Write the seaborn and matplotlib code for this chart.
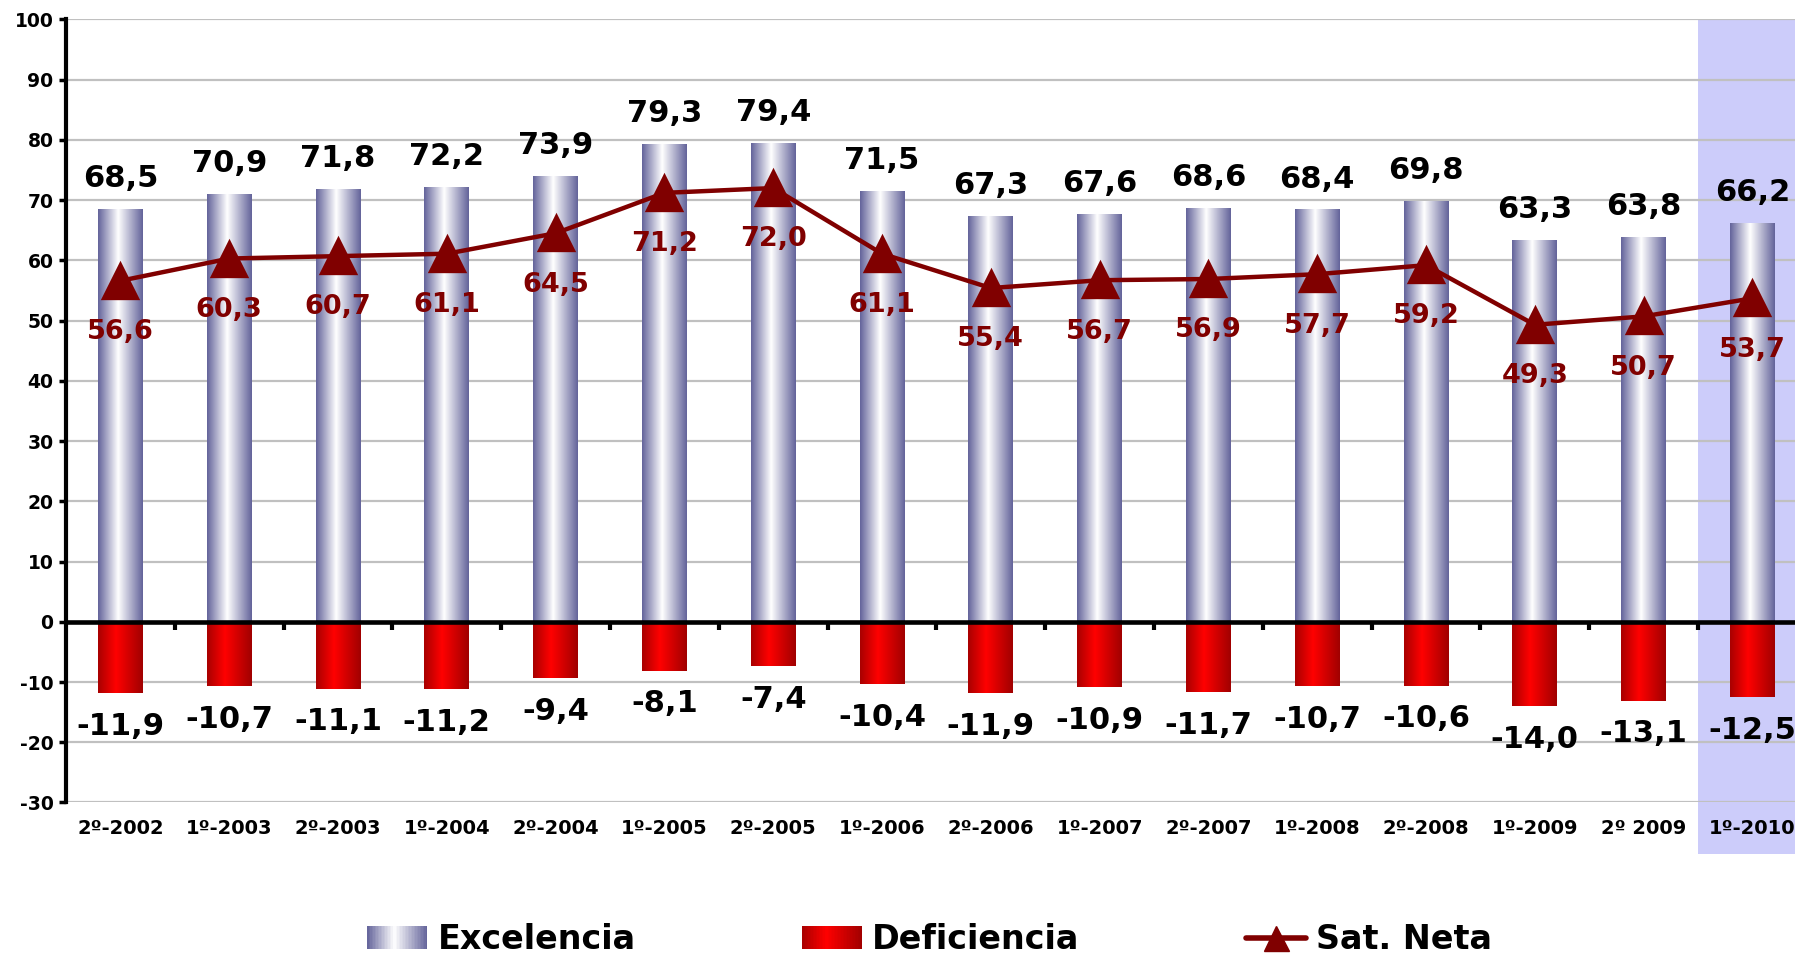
import numpy as np
import matplotlib
matplotlib.use('Agg')
import matplotlib.pyplot as plt
import matplotlib.transforms as mtransforms
from matplotlib.patches import Rectangle, Patch
from matplotlib.lines import Line2D
from matplotlib.colors import LinearSegmentedColormap
from matplotlib.legend_handler import HandlerBase
import seaborn as sns

# data
periods = ['2º-2002', '1º-2003', '2º-2003', '1º-2004', '2º-2004', '1º-2005', '2º-2005',
           '1º-2006', '2º-2006', '1º-2007', '2º-2007', '1º-2008', '2º-2008', '1º-2009',
           '2º 2009', '1º-2010']
excelencia = [68.5, 70.9, 71.8, 72.2, 73.9, 79.3, 79.4, 71.5, 67.3, 67.6, 68.6, 68.4, 69.8, 63.3, 63.8, 66.2]
deficiencia = [-11.9, -10.7, -11.1, -11.2, -9.4, -8.1, -7.4, -10.4, -11.9, -10.9, -11.7, -10.7, -10.6, -14.0, -13.1, -12.5]
sat_neta = [56.6, 60.3, 60.7, 61.1, 64.5, 71.2, 72.0, 61.1, 55.4, 56.7, 56.9, 57.7, 59.2, 49.3, 50.7, 53.7]
y_ticks = list(range(-30, 101, 10))
highlight_from = 14.5  # last period is shaded

NETA = '#800000'
exc_cmap = LinearSegmentedColormap.from_list('exc', [(0, '#63639a'), (0.45, '#ffffff'), (1, '#63639a')])
def_cmap = LinearSegmentedColormap.from_list('def', [(0, '#a80000'), (0.4, '#ff0000'), (1, '#a00000')])


def fmt(v):
    return f"{v:.1f}".replace('.', ',')


class GradientHandler(HandlerBase):
    def __init__(self, cmap):
        super().__init__()
        self.cmap = cmap

    def create_artists(self, legend, orig_handle, xdescent, ydescent, width, height, fontsize, trans):
        n = 40
        out = []
        for i in range(n):
            out.append(Rectangle((-xdescent + i * width / n, -ydescent), width / n * 1.05, height,
                                 facecolor=self.cmap((i + 0.5) / n), edgecolor='none', transform=trans))
        return out


sns.set_style('white')
plt.rcParams['font.family'] = ['DejaVu Sans']
plt.rcParams['font.weight'] = 'bold'
plt.rcParams['text.color'] = 'black'
plt.rcParams['xtick.color'] = 'black'
plt.rcParams['ytick.color'] = 'black'
plt.rcParams['axes.labelcolor'] = 'black'

fig = plt.figure(figsize=(17.95, 9.55), dpi=100)
ax = fig.add_axes([66 / 1795, 0.1597, 16 * 108.8 / 1795, 0.82])

# shaded last period, spills under the tick labels
rect = Rectangle((highlight_from, -0.0658), 2, 1.0658, facecolor='#ccccfa', edgecolor='none',
                 transform=mtransforms.blended_transform_factory(ax.transData, ax.transAxes),
                 clip_on=False, zorder=0)
ax.add_patch(rect)

n0 = len(ax.patches)
sns.barplot(x=periods, y=excelencia, width=0.41, ax=ax)
n1 = len(ax.patches)
sns.barplot(x=periods, y=deficiencia, width=0.41, ax=ax)
n2 = len(ax.patches)

grad = np.linspace(0, 1, 256)[np.newaxis, :]
for idx in range(n0, n2):
    p = ax.patches[idx]
    cmap = exc_cmap if idx < n1 else def_cmap
    x0, w = p.get_x(), p.get_width()
    y0, h = p.get_y(), p.get_height()
    ax.imshow(grad, cmap=cmap, extent=[x0, x0 + w, min(y0, y0 + h), max(y0, y0 + h)],
              aspect='auto', zorder=2, interpolation='bilinear')
    p.set_facecolor('none')
    p.set_edgecolor('none')

sns.pointplot(x=periods, y=sat_neta, color=NETA, markers='^', markersize=25, linewidth=3.2,
              errorbar=None, ax=ax)
for ln in ax.lines:
    ln.set_zorder(4)

for i, v in enumerate(excelencia):
    ax.annotate(fmt(v), (i, v), xytext=(0, 16), textcoords='offset points', ha='center',
                va='baseline', fontsize=22, fontweight='bold', color='black', zorder=5)
for i, v in enumerate(deficiencia):
    ax.annotate(fmt(v), (i, v), xytext=(0, -30), textcoords='offset points', ha='center',
                va='baseline', fontsize=22, fontweight='bold', color='black', zorder=5)
for i, v in enumerate(sat_neta):
    ax.annotate(fmt(v), (i, v), xytext=(0, -42), textcoords='offset points', ha='center',
                va='baseline', fontsize=19.5, fontweight='bold', color=NETA, zorder=5)

ax.set_xlim(-0.5, 15.5)
ax.set_ylim(-30, 100)
ax.set_yticks(y_ticks)
ax.set_yticklabels([str(t) for t in y_ticks])
ax.set_xticks(range(len(periods)))
ax.set_xticklabels(periods)
ax.set_xticks(np.arange(0.5, len(periods) - 1, 1), minor=True)
ax.set(xlabel='', ylabel='')

ax.set_axisbelow(True)
ax.yaxis.grid(True, color='#c0c0c0', linewidth=1.6)
ax.xaxis.grid(False)

for s in ['top', 'right']:
    ax.spines[s].set_visible(False)
ax.spines['left'].set_linewidth(3)
ax.spines['left'].set_color('black')
ax.spines['bottom'].set_position(('data', 0))
ax.spines['bottom'].set_linewidth(3.3)
ax.spines['bottom'].set_color('black')
ax.spines['bottom'].set_zorder(3)

ax.tick_params(axis='y', left=True, length=5, width=2.5, pad=4, colors='black', labelsize=13.5)
ax.tick_params(axis='x', which='major', bottom=True, length=0, pad=142, colors='black', labelsize=14)
ax.tick_params(axis='x', which='minor', bottom=True, length=6, width=3, direction='out', color='black')
for lab in ax.get_xticklabels() + ax.get_yticklabels():
    lab.set_fontweight('bold')

handles = [Patch(label='Excelencia'), Patch(label='Deficiencia'),
           Line2D([], [], color=NETA, marker='^', markersize=18, linewidth=4, label='Sat. Neta')]
leg = fig.legend(handles=handles, labels=['Excelencia', 'Deficiencia', 'Sat. Neta'],
                 handler_map={handles[0]: GradientHandler(exc_cmap), handles[1]: GradientHandler(def_cmap)},
                 loc='center', bbox_to_anchor=(0.518, 0.016), ncol=3, frameon=False,
                 prop={'size': 24, 'weight': 'bold'}, handlelength=1.8, handleheight=0.7,
                 handletextpad=0.3, columnspacing=5.0, borderpad=0)
for t in leg.get_texts():
    t.set_color('black')

fig.savefig('out.png', dpi=100)
